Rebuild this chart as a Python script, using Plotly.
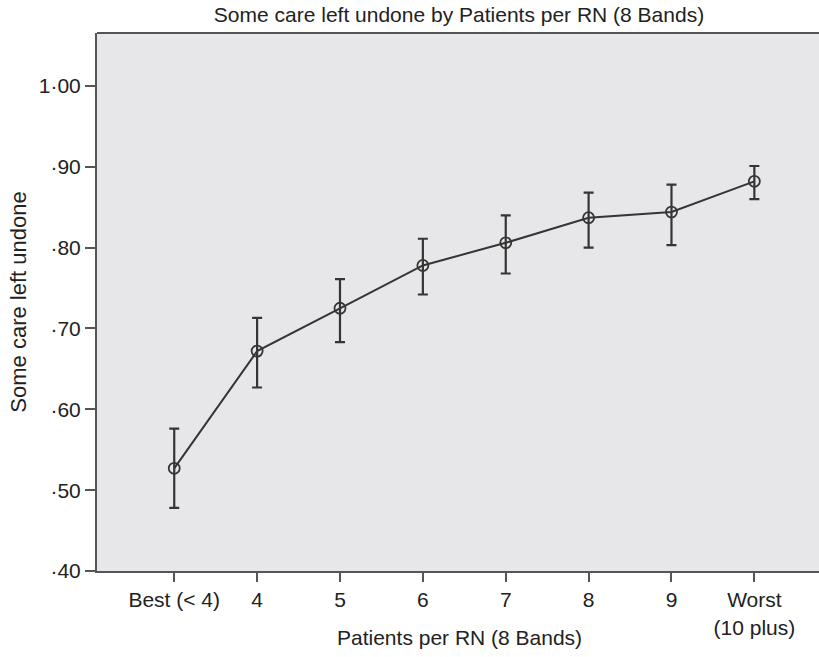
import plotly.graph_objects as go

categories = ["Best (< 4)", "4", "5", "6", "7", "8", "9", "Worst<br>(10 plus)"]
means = [0.527, 0.672, 0.725, 0.778, 0.806, 0.837, 0.844, 0.882]
upper = [0.576, 0.713, 0.761, 0.811, 0.840, 0.868, 0.878, 0.901]
lower = [0.478, 0.627, 0.683, 0.742, 0.768, 0.800, 0.803, 0.860]
y_ticks = [0.40, 0.50, 0.60, 0.70, 0.80, 0.90, 1.00]
y_tick_labels = ["·40", "·50", "·60", "·70", "·80", "·90", "1·00"]

err_plus = [u - m for u, m in zip(upper, means)]
err_minus = [m - l for m, l in zip(means, lower)]

W, H = 819, 657
L, R, T, B = 97, 0, 33, 86
FONT = "Liberation Sans, Arial, sans-serif"
AX = "#555555"
INK = "#353535"
TXT = "#222222"

fig = go.Figure()
fig.add_trace(go.Scatter(
    x=categories, y=means,
    mode="lines+markers",
    line=dict(color=INK, width=2),
    marker=dict(symbol="circle-open", size=11, color=INK, line=dict(width=1.8, color=INK)),
    error_y=dict(type="data", symmetric=False, array=err_plus, arrayminus=err_minus,
                 color=INK, thickness=2.2, width=5),
    showlegend=False,
))

fig.update_layout(
    width=W, height=H,
    margin=dict(l=L, r=R, t=T, b=B, autoexpand=False),
    paper_bgcolor="white",
    plot_bgcolor="#e7e7e9",
    font=dict(family=FONT, size=21, color=TXT),
    title=dict(text="Some care left undone by Patients per RN (8 Bands)",
               x=459 / W, xref="container", xanchor="center",
               y=1 - 15 / H, yref="container", yanchor="middle",
               font=dict(family=FONT, size=21, color=TXT)),
    annotations=[dict(text="Patients per RN (8 Bands)",
                      x=(459 - L) / (W - L - R), y=(H - B - 637) / (H - T - B),
                      xref="paper", yref="paper", showarrow=False,
                      xanchor="center", yanchor="middle",
                      font=dict(family=FONT, size=21, color=TXT))],
    shapes=[dict(type="line", xref="paper", yref="paper", x0=0, x1=1, y0=1, y1=1,
                 line=dict(color=AX, width=2), layer="above")],
)

fig.update_xaxes(
    type="category",
    categoryorder="array", categoryarray=categories,
    range=[-0.932, 7.78],
    showgrid=False, zeroline=False,
    showline=True, linecolor=AX, linewidth=2, mirror=False,
    ticks="outside", ticklen=9, tickwidth=2, tickcolor=AX,
    tickfont=dict(family=FONT, size=21, color=TXT),
)
fig.update_yaxes(
    range=[0.40, 1.0655],
    tickvals=y_ticks, ticktext=y_tick_labels,
    showgrid=False, zeroline=False,
    showline=True, linecolor=AX, linewidth=2, mirror=False,
    ticks="outside", ticklen=10, tickwidth=2, tickcolor=AX,
    tickfont=dict(family=FONT, size=21, color=TXT),
    title=dict(text="Some care left undone", standoff=6,
               font=dict(family=FONT, size=22, color=TXT)),
)

fig.write_html(
    "out.html",
    config={"displayModeBar": False},
    post_script=("document.body.style.margin='0';"
                 "document.body.style.overflow='hidden';"
                 "document.documentElement.style.overflow='hidden';"),
)
